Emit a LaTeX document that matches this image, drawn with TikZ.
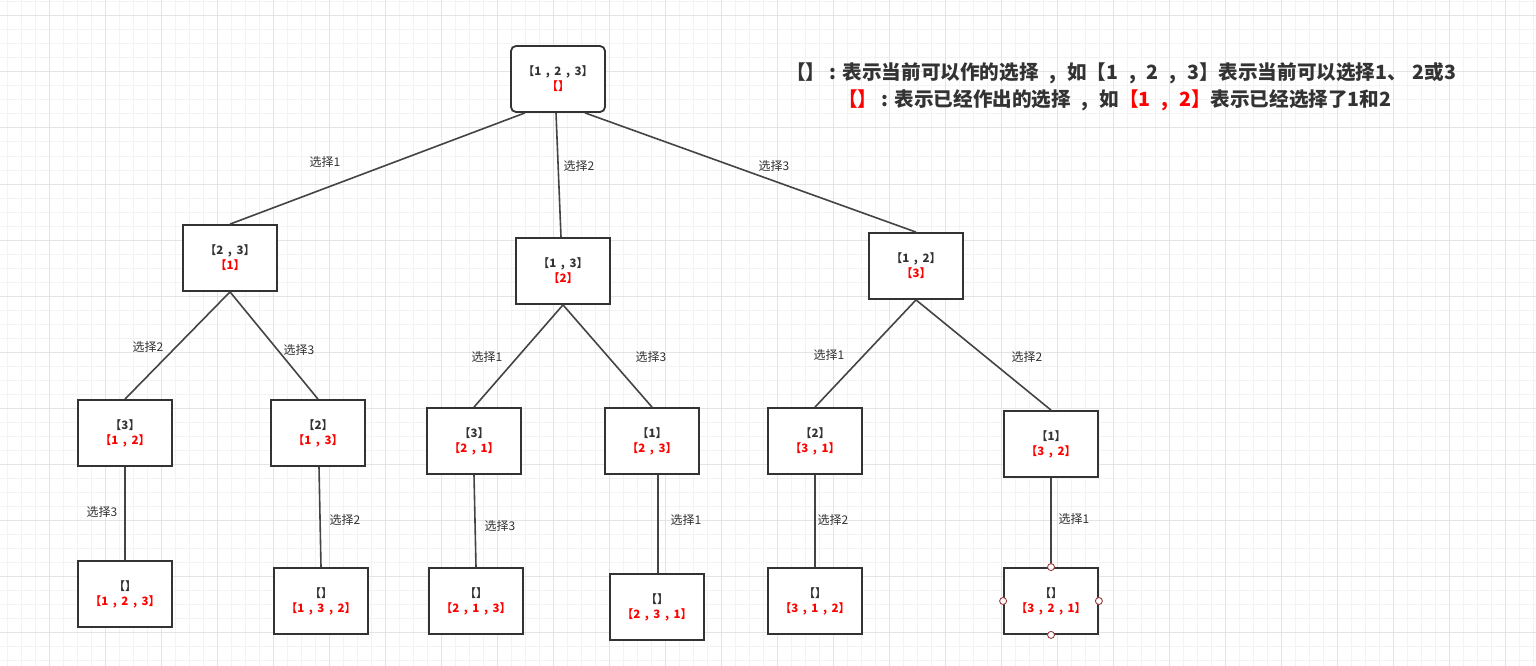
\documentclass[tikz,border=0pt]{standalone}
\usepackage{fontspec}
\setmainfont{Noto Sans CJK SC}
\definecolor{ink}{HTML}{333333}
\definecolor{edgec}{HTML}{444444}
\definecolor{gridminor}{HTML}{F3F3F3}
\definecolor{gridmajor}{HTML}{E4E4E4}
\definecolor{hred}{HTML}{FF0000}
\definecolor{handle}{HTML}{9E3B3B}
\newcommand\bcm{\kern0.4em,\kern0.4em}
\newcommand\lcm{\kern0.55em,\kern0.55em}
\begin{document}
\begin{tikzpicture}[x=1pt,y=-1pt,
  box/.style={draw=ink, line width=1.8pt, fill=white, minimum width=94pt, minimum height=66pt,
    align=center, inner sep=0pt, font=\fontsize{11.5}{15}\selectfont\bfseries, text=ink},
  conn/.style={draw=edgec, line width=1.6pt},
  elabel/.style={font=\fontsize{12}{14}\selectfont, text=ink, inner sep=0pt},
  legend/.style={font=\fontsize{19.6}{22}\selectfont\bfseries, text=ink, inner sep=0pt, anchor=west},
  hnd/.style={draw=handle, fill=white, line width=0.9pt, circle, inner sep=0pt, minimum size=7pt}]
\useasboundingbox (0,0) rectangle (1536,666);
\fill[white] (0,0) rectangle (1536,666);
% grid
\foreach \x in {7,21,...,1536} \draw[gridminor, line width=1pt] (\x,0) -- (\x,666);
\foreach \y in {2,16,...,666} \draw[gridminor, line width=1pt] (0,\y) -- (1536,\y);
\foreach \x in {49,105,...,1536} \draw[gridmajor, line width=1pt] (\x,0) -- (\x,666);
\foreach \y in {16,72,...,666} \draw[gridmajor, line width=1pt] (0,\y) -- (1536,\y);

% nodes
\node[box, rounded corners=5pt] (root) at (558,79) {【1\bcm 2\bcm 3】\\\textcolor{hred}{【】}};
\node[box] (A) at (230,258) {【2\bcm 3】\\\textcolor{hred}{【1】}};
\node[box] (B) at (563,271) {【1\bcm 3】\\\textcolor{hred}{【2】}};
\node[box] (C) at (916,266) {【1\bcm 2】\\\textcolor{hred}{【3】}};
\node[box] (D) at (125,433) {【3】\\\textcolor{hred}{【1\bcm 2】}};
\node[box] (E) at (318,433) {【2】\\\textcolor{hred}{【1\bcm 3】}};
\node[box] (F) at (474,441) {【3】\\\textcolor{hred}{【2\bcm 1】}};
\node[box] (G) at (652,441) {【1】\\\textcolor{hred}{【2\bcm 3】}};
\node[box] (H) at (815,441) {【2】\\\textcolor{hred}{【3\bcm 1】}};
\node[box] (I) at (1051,444) {【1】\\\textcolor{hred}{【3\bcm 2】}};
\node[box] (J) at (125,594) {【】\\\textcolor{hred}{【1\bcm 2\bcm 3】}};
\node[box] (K) at (321,601) {【】\\\textcolor{hred}{【1\bcm 3\bcm 2】}};
\node[box] (L) at (476,601) {【】\\\textcolor{hred}{【2\bcm 1\bcm 3】}};
\node[box] (M) at (657,607) {【】\\\textcolor{hred}{【2\bcm 3\bcm 1】}};
\node[box] (N) at (815,601) {【】\\\textcolor{hred}{【3\bcm 1\bcm 2】}};
\node[box] (O) at (1051,601) {【】\\\textcolor{hred}{【3\bcm 2\bcm 1】}};

% connectors
\path[conn] ([xshift=-33pt]root.south) -- (A.north);
\path[conn] ([xshift=-2pt]root.south) -- ([xshift=-2pt]B.north);
\path[conn] ([xshift=27pt]root.south) -- (C.north);
\path[conn] (A.south) -- (D.north);
\path[conn] (A.south) -- (E.north);
\path[conn] (B.south) -- (F.north);
\path[conn] (B.south) -- (G.north);
\path[conn] (C.south) -- (H.north);
\path[conn] (C.south) -- (I.north);
\path[conn] (D.south) -- (J.north);
\path[conn] ([xshift=1pt]E.south) -- (K.north);
\path[conn] (F.south) -- (L.north);
\path[conn] ([xshift=6pt]G.south) -- ([xshift=1pt]M.north);
\path[conn] (H.south) -- (N.north);
\path[conn] (I.south) -- (O.north);

% edge labels
\node[elabel] (l1) at (325,162) {选择1};
\node[elabel] (l2) at (579,166) {选择2};
\node[elabel] (l3) at (774,166) {选择3};
\node[elabel] (l4) at (148,347) {选择2};
\node[elabel] (l5) at (299,350) {选择3};
\node[elabel] (l6) at (487,357) {选择1};
\node[elabel] (l7) at (651,357) {选择3};
\node[elabel] (l8) at (829,355) {选择1};
\node[elabel] (l9) at (1027,357) {选择2};
\node[elabel] (l10) at (102,512) {选择3};
\node[elabel] (l11) at (345,520) {选择2};
\node[elabel] (l12) at (500,526) {选择3};
\node[elabel] (l13) at (686,520) {选择1};
\node[elabel] (l14) at (833,520) {选择2};
\node[elabel] (l15) at (1074,519) {选择1};

% selection handles
\node[hnd] (h1) at (O.north) {};
\node[hnd] (h2) at (O.south) {};
\node[hnd] (h3) at (O.west) {};
\node[hnd] (h4) at (O.east) {};

% legend
\node[legend] (leg1) at (786,73) {【】 : 表示当前可以作的选择\lcm 如【1\lcm 2\lcm 3】表示当前可以选择1、\kern0.3em 2或3};
\node[legend] (leg2) at (838,100) {\textcolor{hred}{【】} : 表示已经作出的选择\lcm 如\textcolor{hred}{【1\lcm 2】}表示已经选择了1和2};
\end{tikzpicture}
\end{document}
